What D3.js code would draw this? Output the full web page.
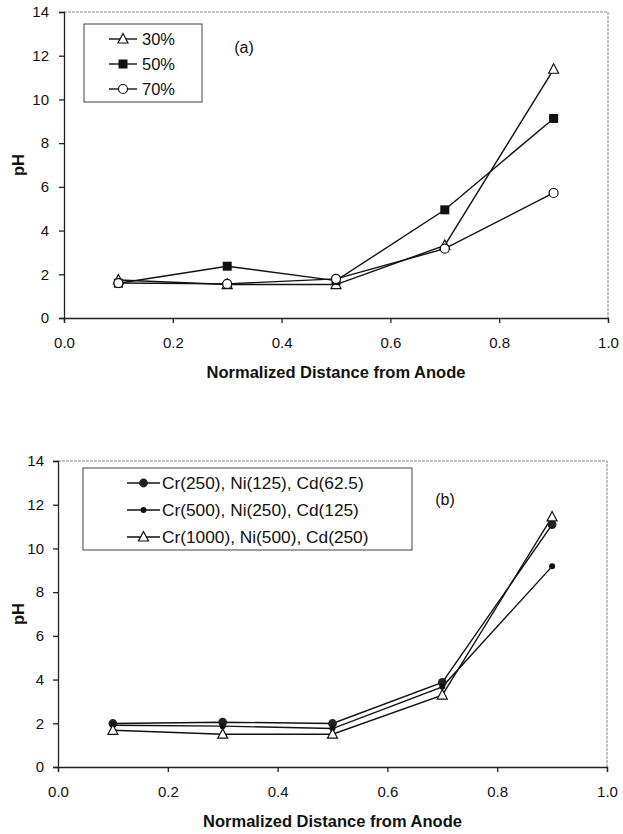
<!DOCTYPE html>
<html>
<head>
<meta charset="utf-8">
<script src="https://cdn.jsdelivr.net/npm/d3@7"></script>
<style>
body{margin:0;background:#fff}
svg{display:block}
text{font-family:"Liberation Sans",Arial,sans-serif;fill:#111}
.tick text{font-size:15px}
.axisTitle{font-weight:bold;font-size:16.5px}
</style>
</head>
<body>
<div id="chart"></div>
<script>
var w = 623
var h = 834

// x positions (normalized distance from anode)
var distance = [0.1, 0.3, 0.5, 0.7, 0.9]

// panel (a)
var seriesA = ["30%", "50%", "70%"]
var pH30 = [1.74, 1.53, 1.53, 3.32, 11.38]
var pH50 = [1.59, 2.37, 1.71, 4.95, 9.13]
var pH70 = [1.60, 1.56, 1.79, 3.17, 5.72]

// panel (b)
var seriesB = ["Cr(250), Ni(125), Cd(62.5)", "Cr(500), Ni(250), Cd(125)", "Cr(1000), Ni(500), Cd(250)"]
var pHlow = [1.99, 2.05, 1.99, 3.87, 11.09]
var pHmid = [1.91, 1.87, 1.76, 3.67, 9.18]
var pHhigh = [1.68, 1.50, 1.50, 3.29, 11.44]

var xTicks = [0, 0.2, 0.4, 0.6, 0.8, 1.0]
var yTicks = [0, 2, 4, 6, 8, 10, 12, 14]

var svg = d3.select("#chart").append("svg").attr("width", w).attr("height", h)

var panels = [
	{label:"(a)", names:seriesA, values:[pH30, pH50, pH70], markers:["triangle","square","circle"],
	 left:64, right:608, top:12, bottom:318, ypad:10, legend:{x:84, y:24, w:118, h:78, lx0:109, lx1:137, tx:141, fs:16.5, rows:[39,64,89]}, tag:{x:244, y:53}},
	{label:"(b)", names:seriesB, values:[pHlow, pHmid, pHhigh], markers:["bigdot","dot","triangle"],
	 left:58, right:607, top:461, bottom:767, ypad:9, legend:{x:83, y:468, w:329, h:82, lx0:127, lx1:160, tx:161, fs:17.3, rows:[483,510,537]}, tag:{x:445, y:505}}
]

panels.forEach(function(p){ drawPanel(p) })

function drawPanel(p){
	var x = d3.scaleLinear().domain([0, 1]).range([p.left, p.right])
	var y = d3.scaleLinear().domain([0, 14]).range([p.bottom, p.top])
	var g = svg.append("g")

	// top and right frame (light dotted)
	g.append("path")
	.attr("d", "M" + p.left + "," + p.top + "H" + p.right + "V" + p.bottom)
	.attr("fill", "none")
	.attr("stroke", "#888")
	.attr("stroke-width", 1)
	.attr("stroke-dasharray", "3 1")

	var xAxis = g.append("g").attr("transform", "translate(0," + p.bottom + ")")
	.call(d3.axisBottom(x).tickValues(xTicks).tickFormat(d3.format(".1f")).tickSize(5).tickPadding(14))
	var yAxis = g.append("g").attr("transform", "translate(" + p.left + ",0)")
	.call(d3.axisLeft(y).tickValues(yTicks).tickSize(5).tickPadding(p.ypad))
	;[xAxis, yAxis].forEach(function(a){
		a.selectAll("path,line").attr("stroke", "#222").attr("stroke-width", 1.3)
		a.selectAll("text").attr("fill", "#111")
	})

	g.append("text").attr("class", "axisTitle")
	.attr("x", (p.left + p.right) / 2) .attr("y", p.bottom + 60)
	.attr("text-anchor", "middle").text("Normalized Distance from Anode")

	g.append("text").attr("class", "axisTitle")
	.attr("transform", "translate(24," + ((p.top + p.bottom) / 2) + ") rotate(-90)")
	.attr("text-anchor", "middle").text("pH")

	g.append("text").attr("x", p.tag.x).attr("y", p.tag.y).attr("text-anchor", "middle")
	.style("font-size", "16px").text(p.label)

	var line = d3.line().x(function(d, i){ return x(distance[i]) }).y(function(d){ return y(d) })

	p.values.forEach(function(vals, k){
		g.append("path").attr("d", line(vals)).attr("fill", "none")
		.attr("stroke", "#111").attr("stroke-width", 1.4)
	})
	p.values.forEach(function(vals, k){
		vals.forEach(function(v, i){
			drawMarker(g, p.markers[k], x(distance[i]), y(v))
		})
	})

	// legend
	var L = p.legend
	g.append("rect").attr("x", L.x).attr("y", L.y).attr("width", L.w).attr("height", L.h)
	.attr("fill", "#fff").attr("stroke", "#444").attr("stroke-width", 1)
	p.names.forEach(function(name, k){
		var ry = L.rows[k]
		g.append("line").attr("x1", L.lx0).attr("x2", L.lx1).attr("y1", ry).attr("y2", ry)
		.attr("stroke", "#111").attr("stroke-width", 1.4)
		drawMarker(g, p.markers[k], (L.lx0 + L.lx1) / 2, ry)
		g.append("text").attr("x", L.tx + 1).attr("y", ry + 6).style("font-size", L.fs + "px").text(name)
	})
}

function drawMarker(g, type, cx, cy){
	if(type == "triangle"){
		g.append("path").attr("d", "M" + cx + "," + (cy - 5.5) + "L" + (cx + 5) + "," + (cy + 4) + "L" + (cx - 5) + "," + (cy + 4) + "Z")
		.attr("fill", "#fff").attr("stroke", "#111").attr("stroke-width", 1.2)
	} else if(type == "square"){
		g.append("rect").attr("x", cx - 4.5).attr("y", cy - 4.5).attr("width", 9).attr("height", 9).attr("fill", "#111")
	} else if(type == "circle"){
		g.append("circle").attr("cx", cx).attr("cy", cy).attr("r", 4.5)
		.attr("fill", "#fff").attr("stroke", "#111").attr("stroke-width", 1.2)
	} else if(type == "bigdot"){
		g.append("circle").attr("cx", cx).attr("cy", cy).attr("r", 4.4).attr("fill", "#222")
	} else if(type == "dot"){
		g.append("circle").attr("cx", cx).attr("cy", cy).attr("r", 3).attr("fill", "#111")
	}
}
</script>
</body>
</html>
